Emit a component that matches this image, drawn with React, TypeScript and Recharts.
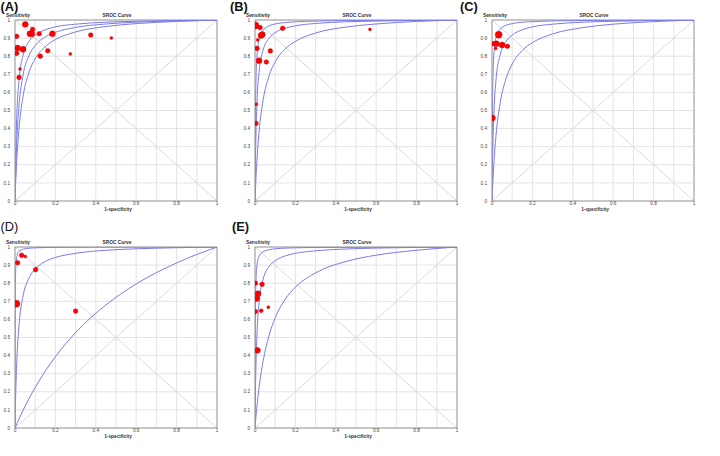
import React from "react";
import {
  ComposedChart,
  Line,
  Scatter,
  XAxis,
  YAxis,
  ZAxis,
  CartesianGrid,
  ReferenceLine,
} from "recharts";

// ---------- curve data (1-specificity grid and sensitivity values) ----------
const fpr = [0, 0.002, 0.005, 0.01, 0.02, 0.04, 0.07, 0.1, 0.15, 0.2, 0.3, 0.45, 0.6, 0.8, 1];

const sensAInner = [0, 0.167, 0.334, 0.503, 0.671, 0.806, 0.883, 0.917, 0.946, 0.962, 0.977, 0.988, 0.993, 0.9975, 1];
const sensAMid = [0, 0.099, 0.217, 0.357, 0.529, 0.696, 0.805, 0.859, 0.907, 0.932, 0.959, 0.978, 0.988, 0.995, 1];
const sensAOuter = [0, 0.062, 0.142, 0.25, 0.402, 0.579, 0.713, 0.786, 0.853, 0.892, 0.934, 0.964, 0.98, 0.992, 1];

const sensBInner = [0, 0.445, 0.668, 0.802, 0.891, 0.943, 0.968, 0.978, 0.986, 0.99, 0.994, 0.997, 0.998, 0.9994, 1];
const sensBMid = [0, 0.194, 0.376, 0.548, 0.71, 0.833, 0.9, 0.93, 0.955, 0.968, 0.981, 0.99, 0.994, 0.998, 1];
const sensBOuter = [0, 0.057, 0.131, 0.233, 0.38, 0.556, 0.693, 0.769, 0.841, 0.882, 0.928, 0.961, 0.978, 0.992, 1];

const sensCInner = [0, 0.474, 0.693, 0.82, 0.902, 0.949, 0.971, 0.98, 0.988, 0.991, 0.995, 0.997, 0.9985, 0.9994, 1];
const sensCMid = [0, 0.167, 0.334, 0.503, 0.671, 0.806, 0.883, 0.917, 0.946, 0.962, 0.977, 0.988, 0.993, 0.9975, 1];
const sensCOuter = [0, 0.053, 0.123, 0.22, 0.364, 0.538, 0.678, 0.757, 0.832, 0.875, 0.923, 0.958, 0.977, 0.991, 1];

const sensDInner = [0, 0.8, 0.909, 0.953, 0.976, 0.988, 0.9934, 0.9955, 0.9972, 0.998, 0.9988, 0.9994, 0.9997, 0.9999, 1];
const sensDMid = [0, 0.115, 0.246, 0.396, 0.57, 0.73, 0.83, 0.878, 0.92, 0.942, 0.965, 0.982, 0.99, 0.996, 1];
const sensDOuter = [0, 0.0052, 0.0129, 0.0256, 0.0504, 0.0977, 0.164, 0.224, 0.315, 0.394, 0.527, 0.68, 0.796, 0.912, 1];

const sensEInner = [0, 0.643, 0.819, 0.901, 0.948, 0.974, 0.985, 0.99, 0.9937, 0.9956, 0.9974, 0.9986, 0.9993, 0.9997, 1];
const sensEMid = [0, 0.181, 0.356, 0.526, 0.692, 0.821, 0.892, 0.924, 0.951, 0.965, 0.979, 0.989, 0.994, 0.9977, 1];
const sensEOuter = [0, 0.0273, 0.0657, 0.124, 0.222, 0.368, 0.513, 0.609, 0.712, 0.778, 0.857, 0.92, 0.955, 0.982, 1];

// ---------- study points (1-specificity, sensitivity, relative weight) ----------
const studyAX = [0.051, 0.008, 0.013, 0.008, 0.04, 0.025, 0.02, 0.074, 0.083, 0.087, 0.12, 0.185, 0.125, 0.162, 0.274, 0.375, 0.477];
const studyAY = [0.976, 0.91, 0.845, 0.816, 0.838, 0.729, 0.683, 0.924, 0.924, 0.948, 0.924, 0.924, 0.8, 0.83, 0.812, 0.917, 0.9];
const studyAW = [3, 2, 3, 2, 3, 1, 2, 3, 3, 2, 2, 3, 2, 2, 1, 2, 1];

const studyBX = [0.002, 0.025, 0.013, 0.01, 0.03, 0.036, 0.02, 0.056, 0.076, 0.137, 0.569, 0.007, 0.005];
const studyBY = [0.97, 0.958, 0.89, 0.843, 0.914, 0.92, 0.775, 0.768, 0.829, 0.954, 0.948, 0.534, 0.429];
const studyBW = [4, 2, 1, 2, 3, 3, 3, 2, 2, 2, 1, 1, 2];

const studyCX = [0.033, 0.008, 0.022, 0.018, 0.05, 0.076, 0.002];
const studyCY = [0.919, 0.869, 0.869, 0.843, 0.862, 0.855, 0.459];
const studyCW = [4, 2, 3, 1, 3, 2, 3];

const studyDX = [0.033, 0.051, 0.013, 0.102, 0.007, 0.3];
const studyDY = [0.954, 0.947, 0.913, 0.875, 0.687, 0.646];
const studyDW = [2, 1, 2, 2, 4, 2];

const studyEX = [0.002, 0.035, 0.015, 0.008, 0.002, 0.031, 0.066, 0.012];
const studyEY = [0.8, 0.794, 0.742, 0.715, 0.643, 0.648, 0.667, 0.429];
const studyEW = [2, 2, 3, 3, 2, 1.5, 1, 3];

// ---------- ticks ----------
const gridValues = [0, 0.1, 0.2, 0.3, 0.4, 0.5, 0.6, 0.7, 0.8, 0.9, 1];
const xTickValues = [0, 0.2, 0.4, 0.6, 0.8, 1];
const yTickValues = [0, 0.1, 0.2, 0.3, 0.4, 0.5, 0.6, 0.7, 0.8, 0.9, 1];

const panelLabels = ["(A)", "(B)", "(C)", "(D)", "(E)"];
const yAxisTitle = "Sensitivity";
const chartTitle = "SROC Curve";
const xAxisTitle = "1-specificity";

const toCurve = (s: number[]) => fpr.map((x, i) => ({ x, y: s[i] }));
const toPoints = (xs: number[], ys: number[], ws: number[]) =>
  xs.map((x, i) => ({ x, y: ys[i], w: ws[i] }));

const FONT = "'Liberation Sans', Arial, Helvetica, sans-serif";
const CURVE = "#7a7af0";
const AXIS = "#9c9c9c";

type Pt = { x: number; y: number; w?: number };

function SrocPanel({ curves, points }: { curves: Pt[][]; points: Pt[] }) {
  const tickStyle = { fontSize: 4.7, fill: "#444", fontFamily: FONT };
  return (
    <ComposedChart width={240} height={220} margin={{ top: 20, right: 23, bottom: 0, left: 0 }}>
      <CartesianGrid
        horizontalValues={gridValues}
        verticalValues={gridValues}
        stroke="#e3e3e3"
        strokeWidth={1}
      />
      <XAxis
        type="number"
        dataKey="x"
        domain={[0, 1]}
        ticks={xTickValues}
        interval={0}
        tickLine={false}
        tickSize={1}
        tickMargin={0}
        height={19}
        axisLine={{ stroke: AXIS }}
        tick={tickStyle}
        tickFormatter={(v: number) => String(v)}
        allowDataOverflow
      />
      <YAxis
        type="number"
        dataKey="y"
        domain={[0, 1]}
        ticks={yTickValues}
        interval={0}
        tickLine={false}
        tickSize={1}
        tickMargin={4}
        width={15}
        axisLine={{ stroke: AXIS }}
        tick={tickStyle}
        tickFormatter={(v: number) => String(v)}
        allowDataOverflow
      />
      <ZAxis type="number" dataKey="w" domain={[1, 4]} range={[7, 38]} />
      <ReferenceLine segment={[{ x: 0, y: 0 }, { x: 1, y: 1 }]} stroke="#dadada" strokeWidth={1} />
      <ReferenceLine segment={[{ x: 0, y: 1 }, { x: 1, y: 0 }]} stroke="#dadada" strokeWidth={1} />
      <ReferenceLine y={1} stroke={AXIS} />
      <ReferenceLine x={1} stroke={AXIS} />
      {curves.map((c, i) => (
        <Line
          key={i}
          data={c}
          dataKey="y"
          type="monotone"
          stroke={CURVE}
          strokeWidth={1}
          dot={false}
          activeDot={false}
          isAnimationActive={false}
        />
      ))}
      <Scatter data={points} fill="#ff0000" stroke="#c80000" strokeWidth={0.4} isAnimationActive={false} />
    </ComposedChart>
  );
}

const panelData = [
  {
    curves: [toCurve(sensAInner), toCurve(sensAMid), toCurve(sensAOuter)],
    points: toPoints(studyAX, studyAY, studyAW),
  },
  {
    curves: [toCurve(sensBInner), toCurve(sensBMid), toCurve(sensBOuter)],
    points: toPoints(studyBX, studyBY, studyBW),
  },
  {
    curves: [toCurve(sensCInner), toCurve(sensCMid), toCurve(sensCOuter)],
    points: toPoints(studyCX, studyCY, studyCW),
  },
  {
    curves: [toCurve(sensDInner), toCurve(sensDMid), toCurve(sensDOuter)],
    points: toPoints(studyDX, studyDY, studyDW),
  },
  {
    curves: [toCurve(sensEInner), toCurve(sensEMid), toCurve(sensEOuter)],
    points: toPoints(studyEX, studyEY, studyEW),
  },
];

// layout (positions of each panel and its label)
const layout = [
  { left: 0, top: 0, labelX: 0.5, labelY: 11, bold: true },
  { left: 240, top: 0, labelX: 230, labelY: 11, bold: true },
  { left: 477, top: 0, labelX: 460, labelY: 11, bold: true },
  { left: 0, top: 227, labelX: 0.5, labelY: 231, bold: false },
  { left: 240, top: 227, labelX: 232, labelY: 231, bold: true },
];

export default function App() {
  return (
    <div
      style={{
        position: "absolute",
        left: 0,
        top: 0,
        width: 720,
        height: 456,
        background: "#fff",
        overflow: "hidden",
      }}
    >
      {panelData.map((p, i) => (
        <div
          key={i}
          style={{ position: "absolute", left: layout[i].left, top: layout[i].top, width: 240, height: 220 }}
        >
          <SrocPanel curves={p.curves} points={p.points} />
        </div>
      ))}
      <svg
        width={720}
        height={456}
        style={{ position: "absolute", left: 0, top: 0, pointerEvents: "none" }}
      >
        {layout.map((l, i) => (
          <g key={i} fontFamily={FONT}>
            <text x={l.labelX} y={l.labelY} fontSize={12.8} fontWeight={l.bold ? 700 : 400} fill="#111">
              {panelLabels[i]}
            </text>
            <text x={l.left + 6} y={l.top + 17} fontSize={4.8} fontWeight={700} fill="#333">
              {yAxisTitle}
            </text>
            <text x={l.left + 117} y={l.top + 17} fontSize={4.8} fontWeight={700} fill="#333" textAnchor="middle">
              {chartTitle}
            </text>
            <text x={l.left + 118} y={l.top + 211.2} fontSize={4.8} fontWeight={700} fill="#333" textAnchor="middle">
              {xAxisTitle}
            </text>
          </g>
        ))}
      </svg>
    </div>
  );
}
